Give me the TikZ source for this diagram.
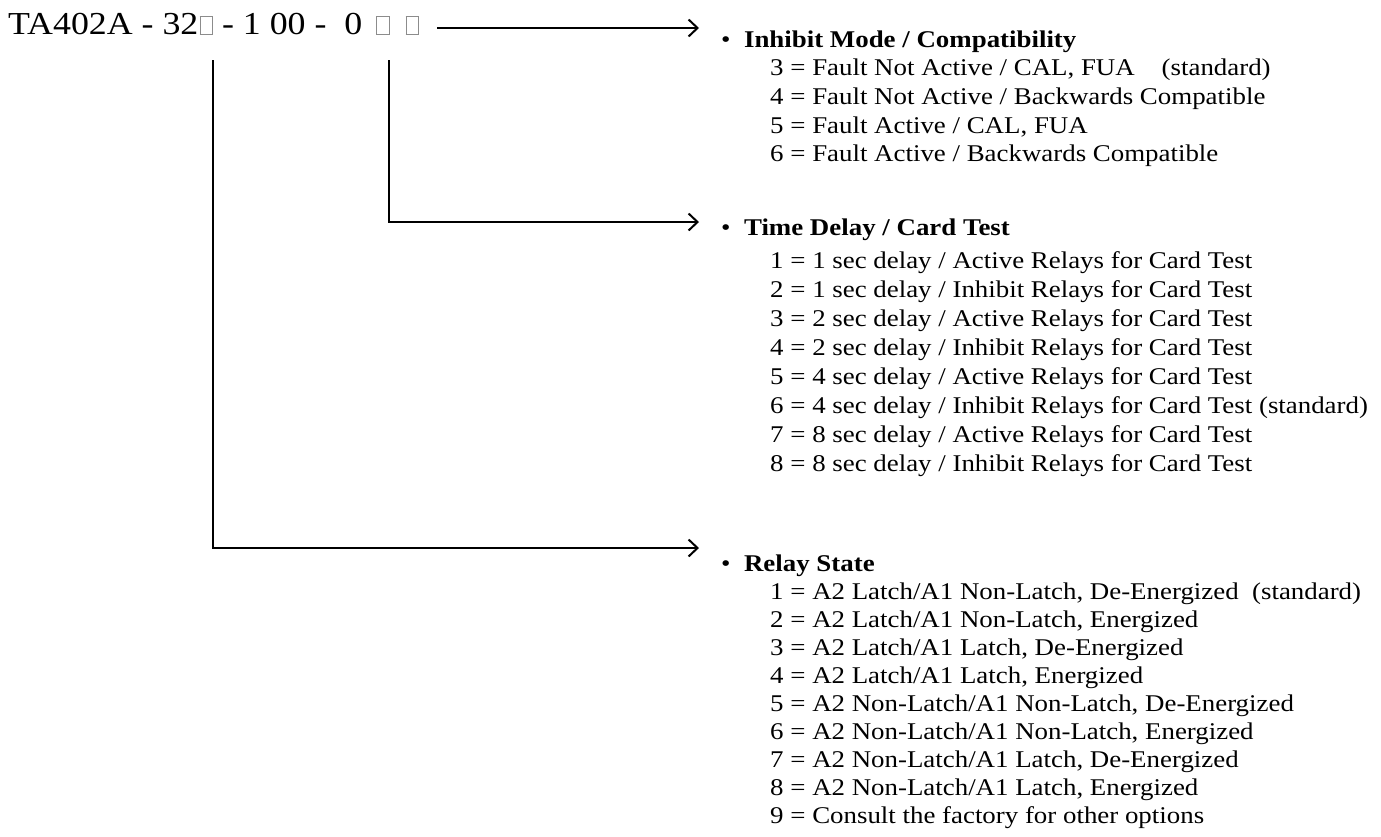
\documentclass[tikz,border=0pt]{standalone}
\usepackage{fontspec}
\setmainfont{Liberation Serif}
\usepackage{xcolor}
\usepackage{graphicx}
\usetikzlibrary{arrows.meta, positioning, calc}
\tikzset{
    lead/.style={line width=2pt, -{Straight Barb[length=9pt, width=17pt]}},
    opt/.style={anchor=base west, inner sep=0pt, font=\fontsize{24}{28}\selectfont},
    hdr/.style={opt},
}
\newcommand{\wide}[1]{\scalebox{1.12}[1]{#1}}
\newcommand{\slotbox}{{\color{black!45}\setlength{\fboxsep}{0pt}\setlength{\fboxrule}{0.8pt}\fbox{\rule{0pt}{17pt}\hspace{10.5pt}}}}

\begin{document}
\begin{tikzpicture}[x=1pt, y=-1pt]
    \useasboundingbox (0,0) rectangle (1381,836);

    % Codice del modello
    \node[anchor=base west, inner sep=0pt, font=\fontsize{32}{38}\selectfont] (pn) at (8,34)
        {\wide{TA402A - 32\hspace{1pt}\slotbox{} - 1 00 - \ 0\hspace{12.5pt}\slotbox\hspace{14pt}\slotbox}};
    \coordinate (pn-end) at (437,28);
    \coordinate (relay-top) at (213,60);
    \coordinate (delay-top) at (389,60);

    % Intestazioni
    \node[hdr] (inhibit) at (721,47) {\wide{\textbullet\hspace{12pt}\textbf{Inhibit Mode / Compatibility}}};
    \node[hdr] (delay) at (721,235) {\wide{\textbullet\hspace{12pt}\textbf{Time Delay / Card Test}}};
    \node[hdr] (relay) at (721,571) {\wide{\textbullet\hspace{12pt}\textbf{Relay State}}};

    \coordinate (inhibit-tip) at (699,28);
    \coordinate (delay-tip) at (699,222);
    \coordinate (relay-tip) at (699,548);

    % Frecce
    \draw[lead] (pn-end) -- (inhibit-tip);
    \draw[lead] (delay-top) |- (delay-tip);
    \draw[lead] (relay-top) |- (relay-tip);

    % Opzioni
    \foreach \t [count=\i] in {{3 = Fault Not Active / CAL, FUA \ \ \ (standard)},
        {4 = Fault Not Active / Backwards Compatible},
        {5 = Fault Active / CAL, FUA},
        {6 = Fault Active / Backwards Compatible}}
        \node[opt] (inhibit-\i) at (770,{47+28.7*\i}) {\wide{\t}};

    \foreach \t [count=\i] in {{1 = 1 sec delay / Active Relays for Card Test},
        {2 = 1 sec delay / Inhibit Relays for Card Test},
        {3 = 2 sec delay / Active Relays for Card Test},
        {4 = 2 sec delay / Inhibit Relays for Card Test},
        {5 = 4 sec delay / Active Relays for Card Test},
        {6 = 4 sec delay / Inhibit Relays for Card Test (standard)},
        {7 = 8 sec delay / Active Relays for Card Test},
        {8 = 8 sec delay / Inhibit Relays for Card Test}}
        \node[opt] (delay-\i) at (770,{239+29*\i}) {\wide{\t}};

    \foreach \t [count=\i] in {{1 = A2 Latch/A1 Non-Latch, De-Energized \ (standard)},
        {2 = A2 Latch/A1 Non-Latch, Energized},
        {3 = A2 Latch/A1 Latch, De-Energized},
        {4 = A2 Latch/A1 Latch, Energized},
        {5 = A2 Non-Latch/A1 Non-Latch, De-Energized},
        {6 = A2 Non-Latch/A1 Non-Latch, Energized},
        {7 = A2 Non-Latch/A1 Latch, De-Energized},
        {8 = A2 Non-Latch/A1 Latch, Energized},
        {9 = Consult the factory for other options}}
        \node[opt] (relay-\i) at (770,{571+28*\i}) {\wide{\t}};
\end{tikzpicture}
\end{document}
